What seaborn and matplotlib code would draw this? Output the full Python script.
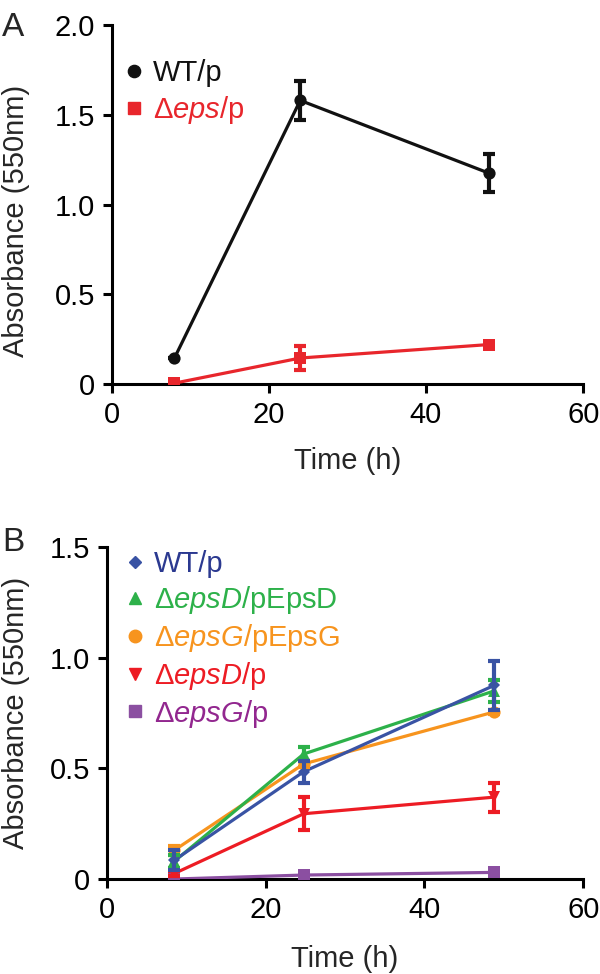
import numpy as np
import pandas as pd
import matplotlib
matplotlib.use("Agg")
import matplotlib.pyplot as plt
from matplotlib.lines import Line2D
import seaborn as sns

# ---------------- data ----------------
# Panel A
a_time = [8, 24, 48]
a_wt = [0.145, 1.58, 1.175]
a_wt_err = [0.0, 0.11, 0.105]
a_eps = [0.005, 0.145, 0.22]
a_eps_err = [0.0, 0.068, 0.015]

# Panel B
b_time = [8.5, 24.8, 48.8]
b_wt = [0.085, 0.485, 0.875]
b_wt_err = [0.045, 0.05, 0.11]
b_epsD_pEpsD = [0.08, 0.565, 0.85]
b_epsD_pEpsD_err = [0.03, 0.03, 0.05]
b_epsG_pEpsG = [0.13, 0.52, 0.755]
b_epsG_pEpsG_err = [0.02, 0.015, 0.01]
b_epsD_p = [0.025, 0.295, 0.37]
b_epsD_p_err = [0.01, 0.075, 0.065]
b_epsG_p = [0.0, 0.018, 0.03]
b_epsG_p_err = [0.0, 0.005, 0.005]

x_ticks = [0, 20, 40, 60]
a_ticks_y = [0, 0.5, 1.0, 1.5, 2.0]
a_ticklabels_y = ["0", "0.5", "1.0", "1.5", "2.0"]
b_ticks_y = [0, 0.5, 1.0, 1.5]
b_ticklabels_y = ["0", "0.5", "1.0", "1.5"]

# ---------------- style ----------------
sns.set_style("ticks")
fam = "Liberation Sans"
plt.rcParams["font.family"] = [fam, "DejaVu Sans"]
plt.rcParams["mathtext.fontset"] = "custom"
plt.rcParams["mathtext.rm"] = fam
plt.rcParams["mathtext.it"] = fam + ":italic"

TICK_FS = 21
LABEL_FS = 21
LEG_FS = 21
LW = 2.3
SPINE = 2.2

fig = plt.figure(figsize=(6.0, 9.74), dpi=100)
axA = fig.add_axes([0.186, 0.6057, 0.786, 0.3686])
axB = fig.add_axes([0.178, 0.0975, 0.794, 0.3409])


def draw(ax, x, y, err, color, marker, ms):
    sns.lineplot(x=x, y=y, ax=ax, color=color, marker=marker, markersize=ms,
                 linewidth=LW, markeredgewidth=0, estimator=None, sort=False,
                 legend=False, zorder=3)
    ax.errorbar(x, y, yerr=err, fmt="none", ecolor=color, elinewidth=3.0,
                capsize=4.3, capthick=3.0, zorder=4)


def style_axes(ax, yticks, ylabels, ylim, ylab_xy, xlab_y):
    ax.set_xlim(0, 60)
    ax.set_ylim(*ylim)
    ax.set_xticks(x_ticks)
    ax.set_yticks(yticks)
    ax.set_yticklabels(ylabels)
    for s in ["top", "right"]:
        ax.spines[s].set_visible(False)
    for s in ["left", "bottom"]:
        ax.spines[s].set_linewidth(SPINE)
        ax.spines[s].set_color("black")
        ax.spines[s].set_capstyle("projecting")
    ax.tick_params(axis="both", direction="out", length=6.5, width=SPINE,
                   labelsize=TICK_FS, colors="black")
    ax.tick_params(axis="y", pad=5.5)
    ax.tick_params(axis="x", pad=5.5)
    ax.set_xlabel("Time (h)", fontsize=LABEL_FS)
    ax.set_ylabel("Absorbance (550nm)", fontsize=LABEL_FS)
    ax.yaxis.set_label_coords(*ylab_xy)
    ax.xaxis.set_label_coords(0.5, xlab_y)


# Panel A
black = "#111111"
red = "#E8262C"
draw(axA, a_time, a_wt, a_wt_err, black, "o", 8.8)
draw(axA, a_time, a_eps, a_eps_err, red, "s", 8.4)
style_axes(axA, a_ticks_y, a_ticklabels_y, (0, 2.0), (-0.172, 0.455), -0.175)

handlesA = [Line2D([], [], color=black, marker="o", linestyle="none", markersize=8.8),
            Line2D([], [], color=red, marker="s", linestyle="none", markersize=8.2)]
labelsA = ["WT/p", r"Δ$\mathit{eps}$/p"]
axA.legend(handlesA, labelsA, loc="upper left", bbox_to_anchor=(0.028, 0.905),
           frameon=False, fontsize=LEG_FS, handlelength=0.6, handletextpad=0.36,
           labelspacing=0.25, labelcolor=[black, red], borderaxespad=0, borderpad=0)

# Panel B
blue_m = "#3953A4"
blue_t = "#2B3990"
green = "#2DB14A"
orange = "#F7941E"
red2 = "#ED1C24"
purple_m = "#8B4FA1"
purple_t = "#92278F"
draw(axB, b_time, b_epsG_p, b_epsG_p_err, purple_m, "s", 8.4)
draw(axB, b_time, b_epsD_p, b_epsD_p_err, red2, "v", 8.5)
draw(axB, b_time, b_epsG_pEpsG, b_epsG_pEpsG_err, orange, "o", 8.8)
draw(axB, b_time, b_epsD_pEpsD, b_epsD_pEpsD_err, green, "^", 8.5)
draw(axB, b_time, b_wt, b_wt_err, blue_m, "D", 6.5)
style_axes(axB, b_ticks_y, b_ticklabels_y, (0, 1.5), (-0.162, 0.5), -0.2)

handlesB = [Line2D([], [], color=blue_m, marker="D", linestyle="none", markersize=6),
            Line2D([], [], color=green, marker="^", linestyle="none", markersize=8.5),
            Line2D([], [], color=orange, marker="o", linestyle="none", markersize=9),
            Line2D([], [], color=red2, marker="v", linestyle="none", markersize=8.5),
            Line2D([], [], color=purple_m, marker="s", linestyle="none", markersize=8)]
labelsB = ["WT/p", r"Δ$\mathit{epsD}$/pEpsD", r"Δ$\mathit{epsG}$/pEpsG",
           r"Δ$\mathit{epsD}$/p", r"Δ$\mathit{epsG}$/p"]
axB.legend(handlesB, labelsB, loc="upper left", bbox_to_anchor=(0.04, 0.99),
           frameon=False, fontsize=LEG_FS, handlelength=0.6, handletextpad=0.36,
           labelspacing=0.2, labelcolor=[blue_t, green, orange, red2, purple_t],
           borderaxespad=0, borderpad=0)

fig.text(0.003, 0.9877, "A", fontsize=24, ha="left", va="top")
fig.text(0.003, 0.459, "B", fontsize=24, ha="left", va="top")

fig.savefig("out.png", dpi=100)
